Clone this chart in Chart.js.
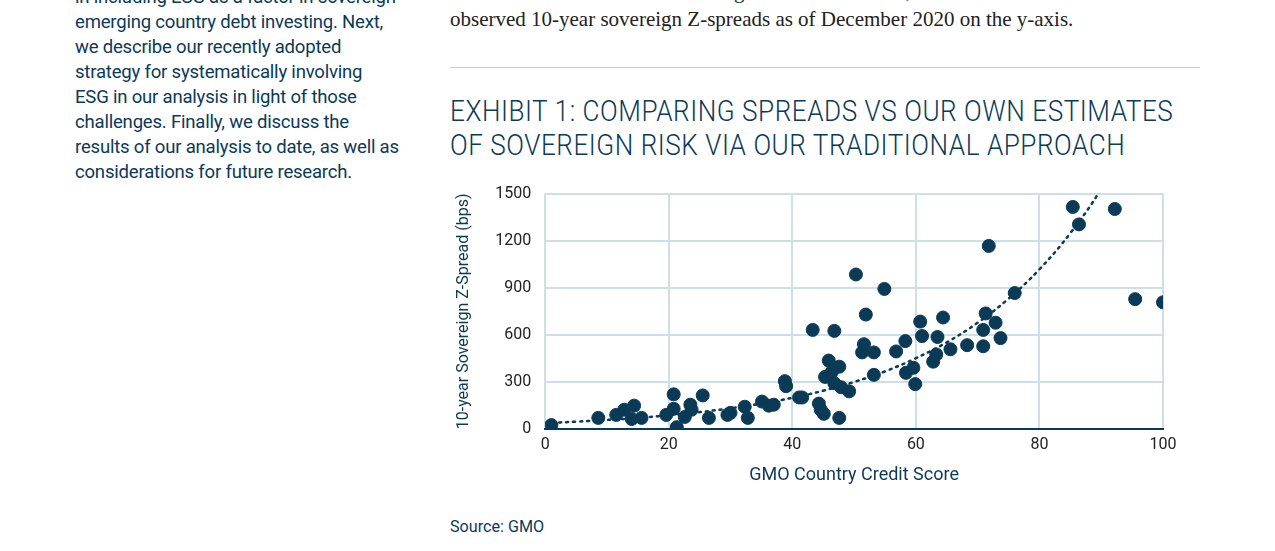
<!DOCTYPE html>
<html><head><meta charset="utf-8">
<script src="https://cdn.jsdelivr.net/npm/chart.js@4"></script>
<style>
body{margin:0;background:#fff;width:1275px;height:551px;overflow:hidden;position:relative;font-family:Roboto,sans-serif;color:#0b3a5a}
.left{position:absolute;left:75px;top:-16px;font-size:18px;line-height:25px;letter-spacing:-0.2px;transform:scaleX(1.03);transform-origin:left top;width:380px}
.serif{position:absolute;left:450px;top:-23px;font-family:'Liberation Serif',serif;font-size:21px;line-height:28px;color:#222;white-space:nowrap}
.rule{position:absolute;left:450px;top:67px;width:750px;border-top:1px solid #ccc}
.title{position:absolute;left:450px;top:94px;font-size:29px;font-weight:300;line-height:34px;letter-spacing:0.6px;transform:scaleX(0.9);transform-origin:left top;white-space:nowrap}
.src{position:absolute;left:450px;top:516px;font-size:17px;transform:scaleX(0.95);transform-origin:left top}
#wrap{position:absolute;left:450px;top:170px;width:750px;height:320px}
</style></head><body>
<div class="left">in including ESG as a factor in sovereign<br>emerging country debt investing. Next,<br>we describe our recently adopted<br>strategy for systematically involving<br>ESG in our analysis in light of those<br>challenges. Finally, we discuss the<br>results of our analysis to date, as well as<br>considerations for future research.</div>
<div class="serif">with our own estimates of sovereign risk on the x-axis, and<br>observed 10-year sovereign Z-spreads as of December 2020 on the y-axis.</div>
<div class="rule"></div>
<div class="title">EXHIBIT 1: COMPARING SPREADS VS OUR OWN ESTIMATES<br>OF SOVEREIGN RISK VIA OUR TRADITIONAL APPROACH</div>
<div class="src">Source: GMO</div>
<div id="wrap"><canvas id="c"></canvas></div>
<script>
const scoreX=[1.0,8.6,11.5,12.8,14.0,14.4,15.6,19.6,20.8,20.8,21.3,22.6,23.5,23.7,25.5,26.5,29.5,30.0,32.3,32.8,35.1,36.2,37.0,38.8,39.0,41.1,41.6,43.3,46.8,44.3,44.6,45.1,45.9,45.3,46.4,47.6,46.8,47.9,49.2,47.6,50.3,54.9,51.9,51.6,51.3,53.2,53.2,56.8,58.3,58.4,59.6,59.9,60.7,61.0,62.8,63.3,63.5,64.4,65.6,68.3,70.9,70.9,71.3,72.9,73.7,71.8,76.0,85.4,86.4,92.2,95.5,100];
const spreadY=[26,72,91,124,65,150,72,91,222,130,13,78,156,124,215,72,91,104,143,72,176,150,156,306,274,202,202,632,626,163,124,98,437,333,365,398,293,267,241,72,985,893,730,541,489,489,346,495,561,359,391,287,685,593,430,476,587,711,509,535,528,632,737,678,580,1167,867,1415,1304,1402,828,808];
const trendX=[0,5,10,15,20,25,30,35,40,45,50,55,60,65,70,75,80,85,90,95];
const trendY=[39,48,59,72,89,109,133,163,200,245,301,368,452,553,678,831,1018,1248,1529,1870];
const yTicks=[0,300,600,900,1200,1500];
const navy='#0b3a57', grid='#cde0ea';
new Chart(document.getElementById('c'),{
 type:'scatter',
 data:{datasets:[
  {data:scoreX.map((x,i)=>({x,y:spreadY[i]})),backgroundColor:navy,borderColor:navy,pointRadius:6.5,pointHoverRadius:6.5},
  {type:'line',data:trendX.map((x,i)=>({x,y:trendY[i]})),borderColor:navy,borderWidth:2.5,borderDash:[2,5],borderCapStyle:'round',pointRadius:0,fill:false,tension:0.4}
 ]},
 options:{responsive:true,maintainAspectRatio:false,animation:false,
  layout:{padding:{top:14,right:37,left:0,bottom:0}},
  plugins:{legend:{display:false},tooltip:{enabled:false}},
  scales:{
   x:{type:'linear',min:0,max:100,ticks:{stepSize:20,color:'#222',font:{family:'Roboto',size:16},padding:6},
      grid:{color:grid,lineWidth:2,drawTicks:false},border:{color:navy,width:2},
      title:{display:true,text:'GMO Country Credit Score',color:navy,font:{family:'Roboto',size:18},padding:{top:4}}},
   y:{min:0,max:1500,afterBuildTicks:a=>{a.ticks=yTicks.map(v=>({value:v}))},
      ticks:{color:'#222',font:{family:'Roboto',size:16},padding:14,callback:v=>String(v)},
      grid:{color:grid,lineWidth:2,drawTicks:false},border:{display:false},
      title:{display:true,text:'10-year Sovereign Z-Spread (bps)',color:navy,font:{family:'Roboto',size:16},padding:{bottom:8}}}
  }}
});
</script></body></html>
